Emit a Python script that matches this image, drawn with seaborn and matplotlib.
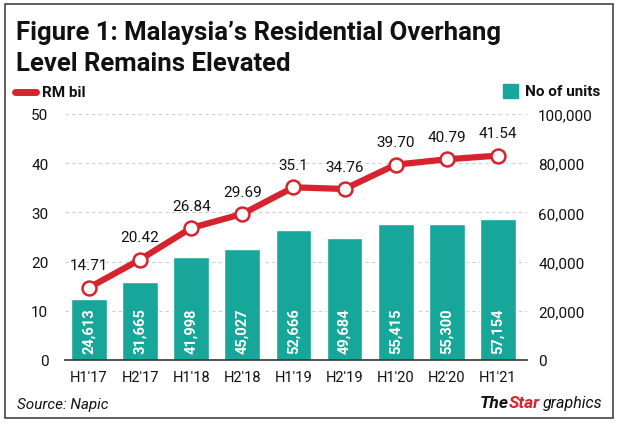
import numpy as np
import pandas as pd
import seaborn as sns
import matplotlib.pyplot as plt
from matplotlib.patches import Rectangle

periods = ["H1'17", "H2'17", "H1'18", "H2'18", "H1'19", "H2'19", "H1'20", "H2'20", "H1'21"]
rm_bil = [14.71, 20.42, 26.84, 29.69, 35.1, 34.76, 39.70, 40.79, 41.54]
rm_labels = ["14.71", "20.42", "26.84", "29.69", "35.1", "34.76", "39.70", "40.79", "41.54"]
units = [24613, 31665, 41998, 45027, 52666, 49684, 55415, 55300, 57154]

teal = "#16a69a"
red = "#d7232d"

sns.set_style("white")
plt.rcParams['font.family'] = ['Roboto', 'DejaVu Sans']

df = pd.DataFrame({"period": periods, "units": units, "rm": rm_bil})

fig = plt.figure(figsize=(6.2, 4.27), dpi=100)
ax = fig.add_axes([65 / 620, 66 / 427, 462 / 620, 246 / 427])
ax2 = ax.twinx()

# bars on the right-hand axis
sns.barplot(data=df, x="period", y="units", color=teal, width=0.7, saturation=1, ax=ax, zorder=2)
ax.set_ylim(0, 100000)
ax.set_xlim(-0.47, 8.57)
ax.set_xlabel("")
ax.set_ylabel("")
ax.grid(axis="y", linestyle=(0, (3, 3)), color="#cccccc", linewidth=0.8, zorder=0)
for s in ["top", "left", "right"]:
    ax.spines[s].set_visible(False)
ax.spines["bottom"].set_color("#333333")
ax.spines["bottom"].set_linewidth(1.2)

for i, v in enumerate(units):
    ax.text(i, 3000, f"{v:,}", rotation=90, ha="center", va="bottom",
            color="white", fontsize=10.5, fontweight="bold", zorder=3)

# line on the left-hand axis
sns.lineplot(x=np.arange(len(periods)), y=rm_bil, ax=ax2, color=red, linewidth=4.5,
             marker="o", markersize=10, markerfacecolor="white",
             markeredgecolor=red, markeredgewidth=1.8, zorder=4)
ax2.set_ylim(0, 50)
ax2.set_xlim(-0.47, 8.57)
ax2.set_ylabel("")
for s in ["top", "left", "right", "bottom"]:
    ax2.spines[s].set_visible(False)
for i, (v, lab) in enumerate(zip(rm_bil, rm_labels)):
    ax2.annotate(lab, (i, v), xytext=(0, 11), textcoords="offset points",
                 ha="center", va="bottom", fontsize=11, color="#111111")

# swap sides: units axis on the right, RM axis on the left
ax.yaxis.tick_right()
ax.yaxis.set_label_position("right")
ax.set_yticks(np.arange(0, 100001, 20000))
ax.set_yticklabels([f"{v:,}" for v in range(0, 100001, 20000)])
ax.tick_params(axis="y", length=0, pad=8, labelsize=11, labelcolor="#111111")
ax.tick_params(axis="x", length=0, pad=7, labelsize=10.5, labelcolor="#111111")
ax2.yaxis.tick_left()
ax2.set_yticks(np.arange(0, 51, 10))
ax2.tick_params(axis="y", length=0, pad=12, labelsize=11, labelcolor="#111111")

# title and legend
fig.text(16 / 620, 1 - 40 / 427, "Figure 1: Malaysia\u2019s Residential Overhang",
         fontsize=18.5, fontweight="bold", va="baseline", ha="left", color="#111111")
fig.text(16 / 620, 1 - 71 / 427, "Level Remains Elevated",
         fontsize=18.5, fontweight="bold", va="baseline", ha="left", color="#111111")

fig.add_artist(plt.Line2D([15 / 620, 36 / 620], [1 - 93 / 427, 1 - 93 / 427],
                          color=red, linewidth=5, solid_capstyle="round"))
fig.text(42 / 620, 1 - 93 / 427, "RM bil", fontsize=11, fontweight="bold",
         va="center", ha="left", color="#111111")
fig.add_artist(Rectangle((503 / 620, 1 - 99 / 427), 15 / 620, 14 / 427,
                         transform=fig.transFigure, color=teal))
fig.text(525 / 620, 1 - 92 / 427, "No of units", fontsize=11, fontweight="bold",
         va="center", ha="left", color="#111111")

# footer
fig.text(17 / 620, 1 - 405 / 427, "Source: Napic", fontsize=11, style="italic",
         va="center", ha="left", color="#111111")
renderer = fig.canvas.get_renderer()
x0 = 480
parts = [("The", "#111111", "bold", 12.5, 0), ("Star", red, "bold", 12.5, 0),
         ("graphics", "#111111", "normal", 11.5, 3)]
for word, col, wt, fs, gap in parts:
    x0 += gap
    t = fig.text(x0 / 620, 1 - 404 / 427, word, fontsize=fs, style="italic",
                 fontweight=wt, va="center", ha="left", color=col)
    bb = t.get_window_extent(renderer)
    x0 = bb.x1

# outer frame
fig.add_artist(Rectangle((5 / 620, 1 - 419 / 427), 608 / 620, 414 / 427,
                         transform=fig.transFigure, fill=False,
                         edgecolor="#444444", linewidth=1.2))

fig.savefig("out.png", dpi=100, facecolor="white")
